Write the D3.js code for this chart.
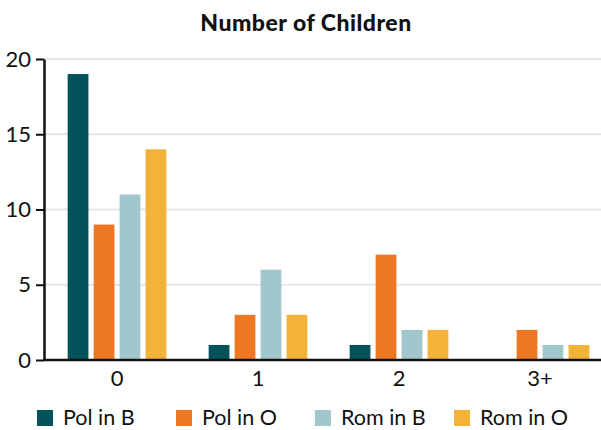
<!DOCTYPE html>
<html>
<head>
<meta charset="utf-8">
<script src="https://cdn.jsdelivr.net/npm/d3@7"></script>
<style>
  html, body { margin: 0; padding: 0; background: #fff; }
  svg { display: block; font-family: Lato, "Open Sans", sans-serif; }
</style>
</head>
<body>
<svg id="chart" width="601" height="430"></svg>
<script>
const categories = ["0", "1", "2", "3+"];
const seriesNames = ["Pol in B", "Pol in O", "Rom in B", "Rom in O"];
const polInB = [19, 1, 1, 0];
const polInO = [9, 3, 7, 2];
const romInB = [11, 6, 2, 1];
const romInO = [14, 3, 2, 1];
const yTicks = [0, 5, 10, 15, 20];
const colors = ["#03525B", "#EE7724", "#A1C6CC", "#F3B339"];
const title = "Number of Children";

const seriesValues = [polInB, polInO, romInB, romInO];
const data = categories.map((c, i) => ({
  cat: c,
  values: seriesNames.map((s, j) => ({ series: s, value: seriesValues[j][i] }))
}));

const W = 601, H = 430;
const mLeft = 44, mBottom = 360, mTop = 59;
const svg = d3.select("#chart");

const x0 = d3.scaleBand().domain(categories).range([46.5, 610.5]).paddingInner(0.3).paddingOuter(0.15);
const x1 = d3.scaleBand().domain(seriesNames).range([0, x0.bandwidth()]).paddingInner(0.2);
const y = d3.scaleLinear().domain([0, 20]).range([mBottom, mTop]);
const color = d3.scaleOrdinal().domain(seriesNames).range(colors);

// gridlines
svg.append("g").selectAll("line").data(yTicks.filter(d => d > 0)).join("line")
  .attr("x1", mLeft).attr("x2", W)
  .attr("y1", d => y(d)).attr("y2", d => y(d))
  .attr("stroke", "#e6e6e6").attr("stroke-width", 2);

// bars
svg.append("g").selectAll("g").data(data).join("g")
  .attr("transform", d => `translate(${x0(d.cat)},0)`)
  .selectAll("rect").data(d => d.values).join("rect")
  .attr("x", d => x1(d.series))
  .attr("width", x1.bandwidth())
  .attr("y", d => y(d.value))
  .attr("height", d => y(0) - y(d.value))
  .attr("fill", d => color(d.series));

// y axis
const yAxis = svg.append("g").attr("transform", `translate(${mLeft},0)`)
  .call(d3.axisLeft(y).tickValues(yTicks).tickSize(8).tickSizeOuter(0).tickPadding(5));
yAxis.select(".domain").attr("stroke", "#111").attr("stroke-width", 2.5);
yAxis.selectAll(".tick line").attr("stroke", "#111").attr("stroke-width", 2);
yAxis.selectAll(".tick text").attr("font-size", 22).attr("fill", "#111").attr("font-family", "Lato, sans-serif");

// x axis
const xAxis = svg.append("g").attr("transform", `translate(0,${mBottom})`)
  .call(d3.axisBottom(x0).tickSize(0).tickPadding(10));
xAxis.select(".domain").remove();
xAxis.selectAll(".tick text").attr("font-size", 22).attr("fill", "#111").attr("font-family", "Lato, sans-serif");
svg.append("line").attr("x1", mLeft - 1).attr("x2", W)
  .attr("y1", y(0)).attr("y2", y(0))
  .attr("stroke", "#111").attr("stroke-width", 2.5);

// title
svg.append("text").attr("x", 306).attr("y", 31)
  .attr("text-anchor", "middle").attr("font-size", 23).attr("font-weight", 900)
  .attr("letter-spacing", 0.5)
  .attr("fill", "#111").text(title);

// legend
const legend = svg.append("g").selectAll("g").data(seriesNames).join("g")
  .attr("transform", (d, i) => `translate(${37 + i * 139},410)`);
legend.append("rect").attr("width", 16).attr("height", 16).attr("fill", d => color(d));
legend.append("text").attr("x", 26).attr("y", 15)
  .attr("font-size", 21.5).attr("fill", "#111").text(d => d);
</script>
</body>
</html>
